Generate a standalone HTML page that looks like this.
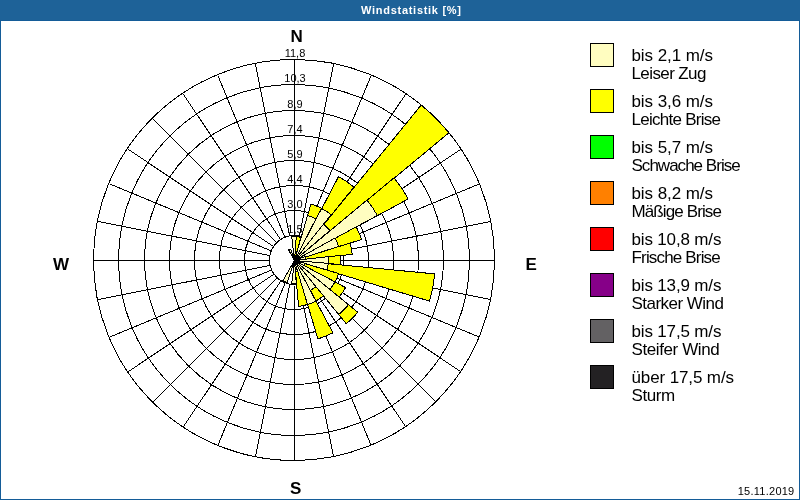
<!DOCTYPE html>
<html lang="de"><head><meta charset="utf-8"><title>Windstatistik</title>
<style>
html,body{margin:0;padding:0;background:#fff}
body{width:800px;height:500px;position:relative;overflow:hidden;font-family:"Liberation Sans",sans-serif;color:#000}
#frame{position:absolute;left:0;top:0;width:798px;height:499px;border:1px solid #145c98;border-top:none}
#title{position:absolute;left:0;top:0;width:800px;height:20px;border-bottom:1px solid #145c98;background:#1e6298;color:#fff;font-weight:bold;font-size:11px;line-height:21px;text-align:center}
#title span{position:absolute;left:361px;top:0;white-space:nowrap;font-size:11px;letter-spacing:0.72px}
.rl{position:absolute;left:265px;width:60px;text-align:center;font-size:11px;line-height:13px;height:13px;white-space:nowrap}
.cp{position:absolute;font-weight:bold;font-size:17px;line-height:18px;white-space:nowrap}
.lb{position:absolute;left:590px;width:22px;height:22px;border:1px solid #000}
.lt{position:absolute;left:631.5px;font-size:17px;line-height:18px;white-space:nowrap}
#date{position:absolute;right:5.5px;top:485px;letter-spacing:0.25px;font-size:11px;line-height:13px;white-space:nowrap}
</style></head><body>
<div id="frame"></div>
<div id="title"><span>Windstatistik [%]</span></div>
<svg width="800" height="500" viewBox="0 0 800 500" style="position:absolute;left:0;top:0">
<g shape-rendering="crispEdges" fill="none" stroke="#000" stroke-width="1">
<circle cx="294" cy="260" r="200.5"/>
<circle cx="294" cy="260" r="175.5"/>
<circle cx="294" cy="260" r="149.5"/>
<circle cx="294" cy="260" r="124.5"/>
<circle cx="294" cy="260" r="99.5"/>
<circle cx="294" cy="260" r="74.5"/>
<circle cx="294" cy="260" r="49.5"/>
<circle cx="294" cy="260" r="24.5"/>
<path d="M294.5 235.5L294.5 60.2M299.4 236L333.6 64M304.1 237.4L371.2 75.4M308.4 239.7L405.8 94M312.2 242.8L436.1 118.9M315.3 246.6L461 149.2M317.6 250.9L479.6 183.8M319 255.6L491 221.4M319.5 260.5L494.8 260.5M319 265.4L491 299.6M317.6 270.1L479.6 337.2M315.3 274.4L461 371.8M312.2 278.2L436.1 402.1M308.4 281.3L405.8 427M304.1 283.6L371.2 445.6M299.4 285L333.6 457M294.5 285.5L294.5 460.8M289.6 285L255.4 457M284.9 283.6L217.8 445.6M280.6 281.3L183.2 427M276.8 278.2L152.9 402.1M273.7 274.4L128 371.8M271.4 270.1L109.4 337.2M270 265.4L98 299.6M269.5 260.5L94.2 260.5M270 255.6L98 221.4M271.4 250.9L109.4 183.8M273.7 246.6L128 149.2M276.8 242.8L152.9 118.9M280.6 239.7L183.2 94M284.9 237.4L217.8 75.4M289.6 236L255.4 64"/>
</g>
<g shape-rendering="crispEdges" stroke="#000" stroke-width="1" stroke-linejoin="miter">
<path fill="#fffdc0" d="M294.5 260.5L291.7 236.6A23.5 23.5 0 0 1 296.3 236.6Z"/>
<path fill="#ffff00" d="M294.5 260.5L296.3 236.6A23.5 23.5 0 0 1 300.8 237.5Z"/>
<path fill="#ffff00" d="M294.5 260.5L311 204A58.5 58.5 0 0 1 321.6 208.4Z"/>
<path fill="#fffdc0" d="M294.5 260.5L307.5 215.5A46.5 46.5 0 0 1 315.9 219Z"/>
<path fill="#ffff00" d="M294.5 260.5L338.5 176.7A94.5 94.5 0 0 1 354 187Z"/>
<path fill="#fffdc0" d="M294.5 260.5L321.6 208.4A58.5 58.5 0 0 1 331.1 214.8Z"/>
<path fill="#ffff00" d="M294.5 260.5L421.2 105A200.5 200.5 0 0 1 449 132.8Z"/>
<path fill="#fffdc0" d="M294.5 260.5L323.5 224.1A46.5 46.5 0 0 1 329.9 230.5Z"/>
<path fill="#ffff00" d="M294.5 260.5L394.1 177.8A129.5 129.5 0 0 1 408.2 199Z"/>
<path fill="#fffdc0" d="M294.5 260.5L367 200A94.5 94.5 0 0 1 377.3 215.5Z"/>
<path fill="#ffff00" d="M294.5 260.5L356.2 226.8A70.5 70.5 0 0 1 361.5 239.5Z"/>
<path fill="#fffdc0" d="M294.5 260.5L335 238.1A46.5 46.5 0 0 1 338.5 246.5Z"/>
<path fill="#ffff00" d="M294.5 260.5L350 243A58.5 58.5 0 0 1 352.2 254.3Z"/>
<path fill="#fffdc0" d="M294.5 260.5L305 256.7A11.5 11.5 0 0 1 305.4 258.9Z"/>
<path fill="#ffff00" d="M294.5 260.5L340.3 255.4A46.5 46.5 0 0 1 340.3 264.6Z"/>
<path fill="#fffdc0" d="M294.5 260.5L328.3 256.6A34.5 34.5 0 0 1 328.3 263.4Z"/>
<path fill="#ffff00" d="M294.5 260.5L434.8 273.9A141.5 141.5 0 0 1 429.4 301.1Z"/>
<path fill="#fffdc0" d="M294.5 260.5L328.3 263.4A34.5 34.5 0 0 1 327 270Z"/>
<path fill="#ffff00" d="M294.5 260.5L338.5 273.5A46.5 46.5 0 0 1 335 281.9Z"/>
<path fill="#fffdc0" d="M294.5 260.5L305 263.3A11.5 11.5 0 0 1 304.1 265.4Z"/>
<path fill="#ffff00" d="M294.5 260.5L345.6 287.6A58.5 58.5 0 0 1 339.2 297.1Z"/>
<path fill="#fffdc0" d="M294.5 260.5L335 281.9A46.5 46.5 0 0 1 329.9 289.5Z"/>
<path fill="#ffff00" d="M294.5 260.5L357.8 312.3A82.5 82.5 0 0 1 346.3 323.8Z"/>
<path fill="#fffdc0" d="M294.5 260.5L348.5 304.7A70.5 70.5 0 0 1 338.7 314.5Z"/>
<path fill="#ffff00" d="M294.5 260.5L323.5 295.9A46.5 46.5 0 0 1 315.9 301Z"/>
<path fill="#fffdc0" d="M294.5 260.5L315.9 286.7A34.5 34.5 0 0 1 310.3 290.4Z"/>
<path fill="#ffff00" d="M294.5 260.5L332.9 332.8A82.5 82.5 0 0 1 317.9 338.9Z"/>
<path fill="#fffdc0" d="M294.5 260.5L315.9 301A46.5 46.5 0 0 1 307.5 304.5Z"/>
<path fill="#ffff00" d="M294.5 260.5L307.5 304.5A46.5 46.5 0 0 1 298.6 306.3Z"/>
<path fill="#fffdc0" d="M294.5 260.5L297.3 271A11.5 11.5 0 0 1 295.1 271.4Z"/>
<path fill="#fffdc0" d="M294.5 260.5L296.3 283.4A23.5 23.5 0 0 1 291.7 283.4Z"/>
<path fill="#fffdc0" d="M294.5 260.5L287.2 282.5A23.5 23.5 0 0 1 282.9 280.7Z"/>
<path fill="#fffdc0" d="M294.5 260.5L288.6 249.9A11.5 11.5 0 0 1 290.7 249Z"/>
</g>
</svg>
<div class="rl" style="top:223px">1,5</div>
<div class="rl" style="top:198px">3,0</div>
<div class="rl" style="top:173px">4,4</div>
<div class="rl" style="top:148px">5,9</div>
<div class="rl" style="top:123px">7,4</div>
<div class="rl" style="top:98px">8,9</div>
<div class="rl" style="top:72px">10,3</div>
<div class="rl" style="top:47px">11,8</div>
<div class="cp" id="cN" style="left:290.5px;top:28px">N</div>
<div class="cp" id="cS" style="left:290px;top:480px">S</div>
<div class="cp" id="cW" style="left:53px;top:256px">W</div>
<div class="cp" id="cE" style="left:525.5px;top:256px">E</div>
<div class="lb" style="top:43px;background:#fffdc0"></div>
<div class="lt" style="top:47px;letter-spacing:-0.08px">bis 2,1 m/s</div>
<div class="lt" style="top:65px;letter-spacing:-0.60px">Leiser Zug</div>
<div class="lb" style="top:89px;background:#ffff00"></div>
<div class="lt" style="top:93px;letter-spacing:-0.08px">bis 3,6 m/s</div>
<div class="lt" style="top:111px;letter-spacing:-0.73px">Leichte Brise</div>
<div class="lb" style="top:135px;background:#00ff00"></div>
<div class="lt" style="top:139px;letter-spacing:-0.08px">bis 5,7 m/s</div>
<div class="lt" style="top:157px;letter-spacing:-0.98px">Schwache Brise</div>
<div class="lb" style="top:181px;background:#ff8000"></div>
<div class="lt" style="top:185px;letter-spacing:-0.08px">bis 8,2 m/s</div>
<div class="lt" style="top:203px;letter-spacing:-0.89px">Mäßige Brise</div>
<div class="lb" style="top:227px;background:#ff0000"></div>
<div class="lt" style="top:231px;letter-spacing:-0.16px">bis 10,8 m/s</div>
<div class="lt" style="top:249px;letter-spacing:-0.83px">Frische Brise</div>
<div class="lb" style="top:273px;background:#860088"></div>
<div class="lt" style="top:277px;letter-spacing:-0.16px">bis 13,9 m/s</div>
<div class="lt" style="top:295px;letter-spacing:-0.53px">Starker Wind</div>
<div class="lb" style="top:319px;background:#636163"></div>
<div class="lt" style="top:323px;letter-spacing:-0.16px">bis 17,5 m/s</div>
<div class="lt" style="top:341px;letter-spacing:-0.40px">Steifer Wind</div>
<div class="lb" style="top:365px;background:#232123"></div>
<div class="lt" style="top:369px;letter-spacing:-0.12px">über 17,5 m/s</div>
<div class="lt" style="top:387px;letter-spacing:-0.45px">Sturm</div>
<div id="date">15.11.2019</div>
</body></html>
